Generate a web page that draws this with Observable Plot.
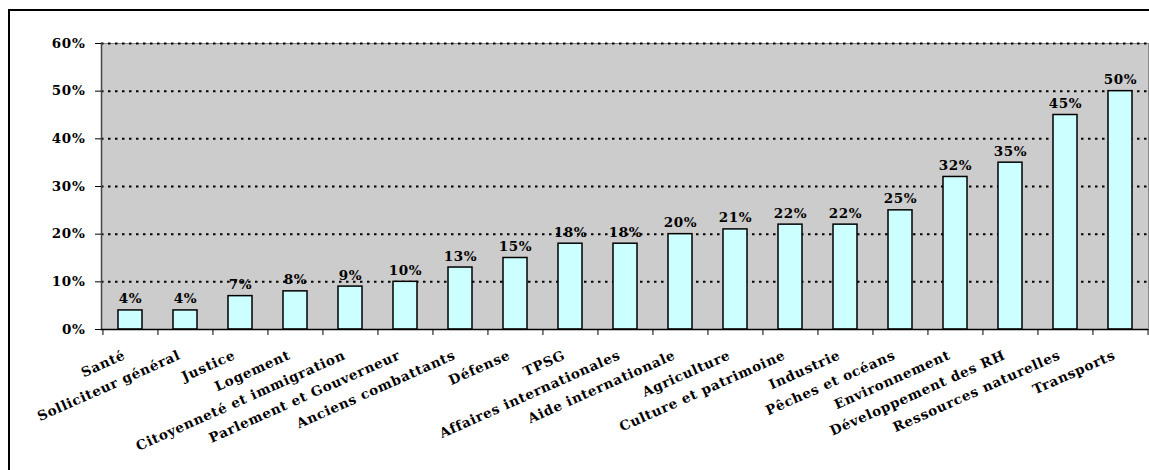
<!DOCTYPE html>
<html>
<head>
<meta charset="utf-8">
<script src="https://cdn.jsdelivr.net/npm/d3@7"></script>
<script src="https://cdn.jsdelivr.net/npm/@observablehq/plot@0.6"></script>
<style>
  html, body { margin: 0; padding: 0; background: white; overflow: hidden; }
  #wrap { position: relative; width: 1149px; height: 470px; overflow: hidden; }
  #box { position: absolute; left: 8px; top: 9px; width: 1300px; height: 600px;
         border-left: 2px solid black; border-top: 2px solid black; }
  #chart { position: absolute; left: 0; top: 0; }
  #chart text { letter-spacing: 0.7px; }
</style>
</head>
<body>
<div id="wrap"><div id="box"></div><div id="chart"></div></div>
<script>
// Share by department
const categories = [
  "Santé", "Solliciteur général", "Justice", "Logement",
  "Citoyenneté et immigration", "Parlement et Gouverneur", "Anciens combattants",
  "Défense", "TPSG", "Affaires internationales", "Aide internationale",
  "Agriculture", "Culture et patrimoine", "Industrie", "Pêches et océans",
  "Environnement", "Développement des RH", "Ressources naturelles", "Transports"
];
const values = [4, 4, 7, 8, 9, 10, 13, 15, 18, 18, 20, 21, 22, 22, 25, 32, 35, 45, 50];
const yTicks = [0, 10, 20, 30, 40, 50, 60];

const data = categories.map((name, i) => ({name, value: values[i]}));

const W = 1149, H = 470;
const mL = 101, mR = 1, mT = 43, mB = 141;
const step = (W - mL - mR) / categories.length;

const font = {fontFamily: "DejaVu Serif", fontWeight: "bold", fontSize: 13.5};

const plot = Plot.plot({
  width: W,
  height: H,
  marginLeft: mL,
  marginRight: mR,
  marginTop: mT,
  marginBottom: mB,
  style: {fontFamily: "DejaVu Serif", fontWeight: "bold", fontSize: "13.5px", background: "transparent", color: "black", overflow: "visible"},
  x: {domain: categories, paddingInner: 0.565, paddingOuter: 0.2825, label: null},
  y: {domain: [0, 60], label: null},
  marks: [
    Plot.frame({fill: "#cccccc", stroke: "#888888"}),
    Plot.ruleY(yTicks.filter(d => d > 0), {stroke: "black", strokeWidth: 2, strokeDasharray: "2.5,4.5"}),
    Plot.barY(data, {x: "name", y: "value", fill: "#ccffff", stroke: "black", strokeWidth: 1.5}),
    Plot.text(data, {x: "name", y: "value", text: d => `${d.value}%`, lineAnchor: "bottom", dy: -7, fill: "black", ...font}),
    Plot.frame({anchor: "left", stroke: "#444444", strokeWidth: 1.5}),
    Plot.ruleY([0], {stroke: "black", strokeWidth: 1.5}),
    // tick marks at the band boundaries
    Plot.axisX({tickSize: 6, fill: "none", stroke: "black", dx: -step / 2}),
    Plot.axisX([categories[categories.length - 1]], {tickSize: 6, fill: "none", stroke: "black", dx: step / 2}),
    // rotated category labels
    Plot.axisX({tickSize: 0, tickRotate: -24, tickPadding: 25, dx: -6, label: null, fill: "black", ...font}),
    Plot.axisY({ticks: yTicks, tickFormat: d => `${d}%`, tickSize: 6, tickPadding: 10, label: null, stroke: "black", fill: "black", ...font})
  ]
});

document.getElementById("chart").appendChild(plot);
</script>
</body>
</html>
